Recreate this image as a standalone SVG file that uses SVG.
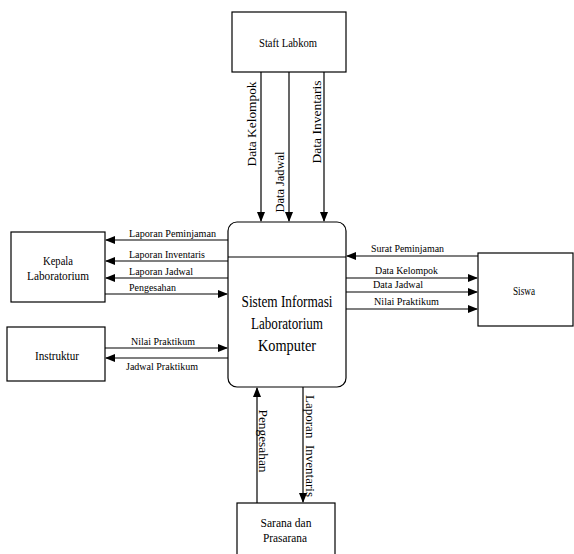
<svg xmlns="http://www.w3.org/2000/svg" width="574" height="554" viewBox="0 0 574 554" font-family="'Liberation Serif', 'Times New Roman', Times, 'Noto Serif', serif">
<style>
.box{fill:#fff;stroke:#000;stroke-width:1.2}
.ln{stroke:#000;stroke-width:1.2;fill:none;marker-end:url(#ah)}
.t{font-size:11px;fill:#000}
.v{font-size:12px;fill:#000;text-anchor:middle}
.big{font-size:13px;fill:#000;text-anchor:middle}
.mid{font-size:16px;fill:#000;text-anchor:middle}
</style>
<defs>
<marker id="ah" markerWidth="10" markerHeight="8" refX="9" refY="4" orient="auto" markerUnits="userSpaceOnUse">
<path d="M0,0 L10,4 L0,8 Z" fill="#000"/>
</marker>
</defs>
<rect width="574" height="554" fill="#fff"/>
<g id="connectors">
<line class="ln" x1="261" y1="72" x2="261" y2="221"/>
<line class="ln" x1="289" y1="72" x2="289" y2="221"/>
<line class="ln" x1="324" y1="72" x2="324" y2="221"/>
<line class="ln" x1="228" y1="240" x2="106" y2="240"/>
<line class="ln" x1="228" y1="261" x2="106" y2="261"/>
<line class="ln" x1="228" y1="278" x2="106" y2="278"/>
<line class="ln" x1="105" y1="294" x2="227" y2="294"/>
<line class="ln" x1="105" y1="348" x2="227" y2="348"/>
<line class="ln" x1="228" y1="358" x2="106" y2="358"/>
<line class="ln" x1="478" y1="256" x2="347" y2="256"/>
<line class="ln" x1="346" y1="278" x2="477" y2="278"/>
<line class="ln" x1="346" y1="292" x2="477" y2="292"/>
<line class="ln" x1="346" y1="309" x2="477" y2="309"/>
<line class="ln" x1="257" y1="503" x2="257" y2="388"/>
<line class="ln" x1="303" y1="387" x2="303" y2="502"/>
<text class="v" transform="translate(256,124) rotate(-90)" textLength="85" lengthAdjust="spacingAndGlyphs">Data Kelompok</text>
<text class="v" transform="translate(284,182) rotate(-90)" textLength="61" lengthAdjust="spacingAndGlyphs">Data Jadwal</text>
<text class="v" transform="translate(321,122) rotate(-90)" textLength="83" lengthAdjust="spacingAndGlyphs">Data Inventaris</text>
<text class="t" x="129" y="237" textLength="87" lengthAdjust="spacingAndGlyphs">Laporan Peminjaman</text>
<text class="t" x="129" y="258" textLength="76" lengthAdjust="spacingAndGlyphs">Laporan Inventaris</text>
<text class="t" x="129" y="275" textLength="64" lengthAdjust="spacingAndGlyphs">Laporan Jadwal</text>
<text class="t" x="129" y="291" textLength="47" lengthAdjust="spacingAndGlyphs">Pengesahan</text>
<text class="t" x="131" y="345" textLength="64" lengthAdjust="spacingAndGlyphs">Nilai Praktikum</text>
<text class="t" x="126" y="370" textLength="72" lengthAdjust="spacingAndGlyphs">Jadwal Praktikum</text>
<text class="t" x="371" y="252" textLength="73" lengthAdjust="spacingAndGlyphs">Surat Peminjaman</text>
<text class="t" x="375" y="274" textLength="63" lengthAdjust="spacingAndGlyphs">Data Kelompok</text>
<text class="t" x="373" y="288" textLength="50" lengthAdjust="spacingAndGlyphs">Data Jadwal</text>
<text class="t" x="374" y="305" textLength="65" lengthAdjust="spacingAndGlyphs">Nilai Praktikum</text>
<text class="v" transform="translate(259,441) rotate(90)" textLength="63" lengthAdjust="spacingAndGlyphs">Pengesahan</text>
<text class="v" transform="translate(306,446) rotate(90)" textLength="102" lengthAdjust="spacingAndGlyphs" xml:space="preserve">Laporan  Inventaris</text>
</g>
<g id="staft-labkom">
<rect class="box" x="232" y="12" width="114" height="60"/>
<text class="big" x="288" y="47" textLength="58" lengthAdjust="spacingAndGlyphs">Staft Labkom</text>
</g>
<g id="sistem">
<rect class="box" x="228" y="222" width="118" height="165" rx="9" ry="9"/>
<line x1="228" y1="257" x2="346" y2="257" stroke="#000" stroke-width="1.2"/>
<text class="mid" x="287" y="307" textLength="91" lengthAdjust="spacingAndGlyphs">Sistem Informasi</text>
<text class="mid" x="287" y="329" textLength="72" lengthAdjust="spacingAndGlyphs">Laboratorium</text>
<text class="mid" x="287" y="351" textLength="58" lengthAdjust="spacingAndGlyphs">Komputer</text>
</g>
<g id="kepala-lab">
<rect class="box" x="11" y="232" width="94" height="70"/>
<text class="big" x="58" y="265" textLength="30" lengthAdjust="spacingAndGlyphs">Kepala</text>
<text class="big" x="58" y="280" textLength="62" lengthAdjust="spacingAndGlyphs">Laboratorium</text>
</g>
<g id="instruktur">
<rect class="box" x="7" y="327" width="98" height="54"/>
<text class="big" x="57" y="360" textLength="44" lengthAdjust="spacingAndGlyphs">Instruktur</text>
</g>
<g id="siswa">
<rect class="box" x="478" y="253" width="95" height="73"/>
<text class="big" x="524" y="295" textLength="22" lengthAdjust="spacingAndGlyphs">Siswa</text>
</g>
<g id="sarana">
<rect class="box" x="237" y="503" width="98" height="60"/>
<text class="big" x="286" y="527" textLength="51" lengthAdjust="spacingAndGlyphs">Sarana dan</text>
<text class="big" x="285" y="542" textLength="44" lengthAdjust="spacingAndGlyphs">Prasarana</text>
</g>
</svg>
